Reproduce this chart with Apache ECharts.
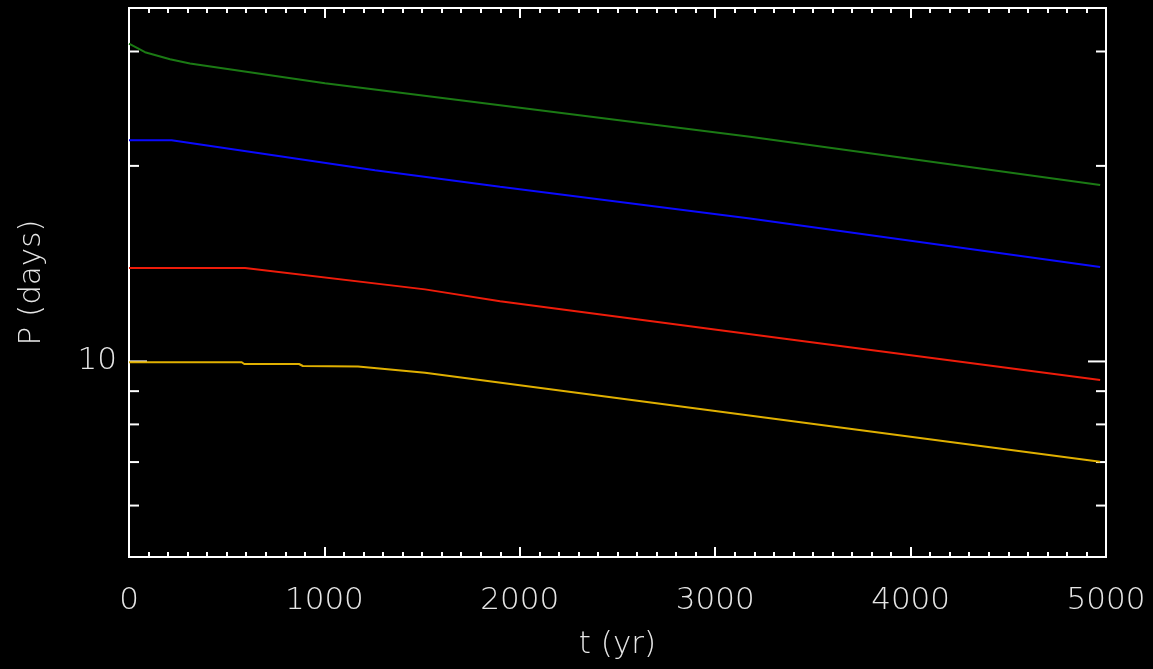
<!DOCTYPE html>
<html>
<head>
<meta charset="utf-8">
<script src="https://cdn.jsdelivr.net/npm/echarts@6/dist/echarts.min.js"></script>
<style>html,body{margin:0;padding:0;background:#000;}#c{width:1153px;height:669px;}</style>
</head>
<body>
<div id="c"></div>
<script>
// Data
const tGreen = [0, 82, 210, 312, 1003, 1899, 3178, 4970];
const pGreen = [30.85, 29.92, 29.19, 28.75, 26.8, 24.8, 22.17, 18.69];
const tBlue = [0, 218, 1259, 1899, 3178, 4970];
const pBlue = [21.9, 21.9, 19.7, 18.57, 16.6, 13.98];
const tRed = [0, 594, 1515, 1899, 3434, 4970];
const pRed = [13.93, 13.93, 12.91, 12.38, 10.76, 9.36];
const tYellow = [0, 577, 590, 870, 890, 1172, 1515, 3000, 4970];
const pYellow = [9.97, 9.97, 9.91, 9.91, 9.84, 9.82, 9.61, 8.39, 7.01];
const yTickValues = [6, 7, 8, 9, 10, 20, 30];
const yMajorTicks = [10];
const yLabelValues = [10];

const zip = (a, b) => a.map((v, i) => [v, b[i]]);
const FONT = 'DejaVu Sans';
const TXT = '#e6e6e6';

const chart = echarts.init(document.getElementById('c'), null, {renderer: 'canvas'});
const xCommon = {
  type: 'value', min: 0, max: 5000, interval: 1000,
  axisLine: {show: false},
  splitLine: {show: false},
  axisTick: {show: true, inside: true, length: 10, lineStyle: {color: '#fff', width: 2}},
  minorTick: {show: true, splitNumber: 10, length: 5, lineStyle: {color: '#fff', width: 2}},
  minorSplitLine: {show: false}
};
const option = {
  backgroundColor: '#000',
  animation: false,
  grid: {left: 129, top: 8, width: 977, height: 549, show: true, borderColor: '#fff', borderWidth: 2, backgroundColor: 'transparent'},
  xAxis: [
    Object.assign({}, xCommon, {
      position: 'bottom',
      name: 't (yr)', nameLocation: 'middle', nameGap: 72,
      nameTextStyle: {color: TXT, fontSize: 31, fontFamily: FONT, fontWeight: 200},
      axisLabel: {color: TXT, fontSize: 31, fontFamily: FONT, fontWeight: 200, margin: 28,
        formatter: v => String(Math.round(v))}
    }),
    Object.assign({}, xCommon, {position: 'top', axisLabel: {show: false}})
  ],
  yAxis: {
    type: 'log', logBase: 10, min: 5, max: 35,
    axisLine: {show: false}, splitLine: {show: false}, axisTick: {show: false},
    minorTick: {show: false}, minorSplitLine: {show: false},
    name: 'P (days)', nameLocation: 'middle', nameGap: 82, nameRotate: 90,
    nameTextStyle: {color: TXT, fontSize: 31, fontFamily: FONT, fontWeight: 200},
    axisLabel: {
      color: TXT, fontSize: 31, fontFamily: FONT, fontWeight: 200, margin: 12,
      formatter: v => yLabelValues.some(l => Math.abs(l - v) < 1e-6) ? String(Math.round(v)) : ''
    }
  },
  series: [
    {type: 'line', data: zip(tGreen, pGreen), showSymbol: false, lineStyle: {color: '#1b7a14', width: 2}, itemStyle: {color: '#1b7a14'}},
    {type: 'line', data: zip(tBlue, pBlue), showSymbol: false, lineStyle: {color: '#0a0aff', width: 2}, itemStyle: {color: '#0a0aff'}},
    {type: 'line', data: zip(tRed, pRed), showSymbol: false, lineStyle: {color: '#ee1c0a', width: 2}, itemStyle: {color: '#ee1c0a'}},
    {type: 'line', data: zip(tYellow, pYellow), showSymbol: false, lineStyle: {color: '#e0b000', width: 2}, itemStyle: {color: '#e0b000'}},
    {
      type: 'custom', silent: true, clip: false,
      data: yTickValues.map(v => [0, v, yMajorTicks.includes(v) ? 1 : 0]),
      renderItem: function (params, api) {
        const cs = params.coordSys;
        const y = api.coord([0, api.value(1)])[1];
        const len = api.value(2) ? 18 : 10;
        const st = {stroke: '#fff', lineWidth: 2};
        return {type: 'group', children: [
          {type: 'line', shape: {x1: cs.x, y1: y, x2: cs.x + len, y2: y}, style: st},
          {type: 'line', shape: {x1: cs.x + cs.width, y1: y, x2: cs.x + cs.width - len, y2: y}, style: st}
        ]};
      }
    }
  ]
};
chart.setOption(option);
</script>
</body>
</html>
